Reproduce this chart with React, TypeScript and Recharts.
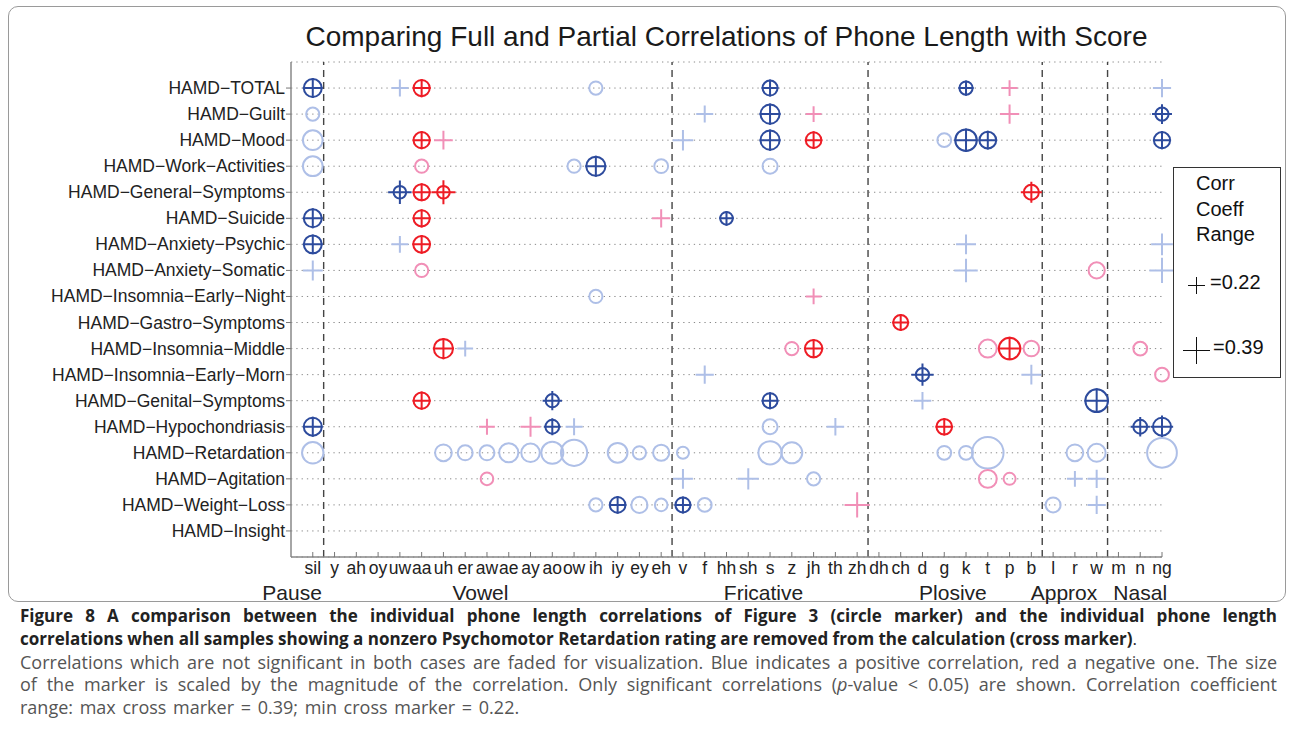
import { ScatterChart, Scatter, XAxis, YAxis, CartesianGrid, ReferenceLine } from 'recharts';

const phones = [
  'sil', 'y', 'ah', 'oy', 'uw', 'aa', 'uh', 'er', 'aw', 'ae', 'ay', 'ao', 'ow', 'ih', 'iy', 'ey', 'eh',
  'v', 'f', 'hh', 'sh', 's', 'z', 'jh', 'th', 'zh',
  'dh', 'ch', 'd', 'g', 'k', 't', 'p', 'b',
  'l', 'r', 'w', 'm', 'n', 'ng',
];

const items = [
  'HAMD−TOTAL', 'HAMD−Guilt', 'HAMD−Mood', 'HAMD−Work−Activities', 'HAMD−General−Symptoms',
  'HAMD−Suicide', 'HAMD−Anxiety−Psychic', 'HAMD−Anxiety−Somatic', 'HAMD−Insomnia−Early−Night',
  'HAMD−Gastro−Symptoms', 'HAMD−Insomnia−Middle', 'HAMD−Insomnia−Early−Morn', 'HAMD−Genital−Symptoms',
  'HAMD−Hypochondriasis', 'HAMD−Retardation', 'HAMD−Agitation', 'HAMD−Weight−Loss', 'HAMD−Insight',
];

const groupNames = ['Pause', 'Vowel', 'Fricative', 'Plosive', 'Approx', 'Nasal'];
// label centres, in phone-index units
const groupCenters = [-0.95, 7.7, 20.7, 29.4, 34.5, 38.0];
// dashed separators between groups
const groupBreaks = [0.5, 16.5, 25.5, 33.5, 36.5];

// [item row, phone, full correlation (circle), partial correlation (cross)]
const markers: [number, string, number | null, number | null][] = [
  [0, 'sil', 0.27, 0.27], [0, 'uw', null, 0.22], [0, 'aa', -0.24, -0.24], [0, 'ih', 0.19, null],
  [0, 's', 0.22, 0.22], [0, 'k', 0.19, 0.19], [0, 'p', null, -0.2], [0, 'ng', null, 0.24],

  [1, 'sil', 0.19, null], [1, 'f', null, 0.22], [1, 's', 0.29, 0.29], [1, 'jh', null, -0.2],
  [1, 'p', null, -0.26], [1, 'ng', 0.19, 0.27],

  [2, 'sil', 0.3, null], [2, 'aa', -0.24, -0.24], [2, 'uh', null, -0.25], [2, 'v', null, 0.28],
  [2, 's', 0.29, 0.29], [2, 'jh', -0.23, -0.23], [2, 'g', 0.2, null], [2, 'k', 0.33, 0.33],
  [2, 't', 0.25, 0.25], [2, 'ng', 0.24, 0.24],

  [3, 'sil', 0.3, null], [3, 'aa', -0.19, null], [3, 'ow', 0.19, null], [3, 'ih', 0.29, 0.29],
  [3, 'eh', 0.2, null], [3, 's', 0.22, null],

  [4, 'uw', 0.18, 0.33], [4, 'aa', -0.24, -0.24], [4, 'uh', -0.18, -0.34], [4, 'b', -0.22, -0.29],

  [5, 'sil', 0.27, 0.27], [5, 'aa', -0.24, -0.24], [5, 'eh', null, -0.24], [5, 'hh', 0.18, 0.18],

  [6, 'sil', 0.27, 0.27], [6, 'uw', null, 0.22], [6, 'aa', -0.25, -0.25], [6, 'k', null, 0.27],
  [6, 'ng', null, 0.3],

  [7, 'sil', null, 0.27], [7, 'aa', -0.19, null], [7, 'k', null, 0.33], [7, 'w', -0.24, null],
  [7, 'ng', null, 0.36],

  [8, 'ih', 0.19, null], [8, 'jh', null, -0.2],

  [9, 'ch', -0.22, -0.22],

  [10, 'uh', -0.29, -0.29], [10, 'er', null, 0.2], [10, 'z', -0.19, null], [10, 'jh', -0.26, -0.26],
  [10, 't', -0.27, null], [10, 'p', -0.33, -0.33], [10, 'b', -0.23, null], [10, 'n', -0.2, null],

  [11, 'f', null, 0.24], [11, 'd', 0.19, 0.31], [11, 'b', null, 0.27], [11, 'ng', -0.2, null],

  [12, 'aa', -0.24, -0.24], [12, 'ao', 0.19, 0.26], [12, 's', 0.22, 0.22], [12, 'd', null, 0.23],
  [12, 'w', 0.35, 0.35],

  [13, 'sil', 0.27, 0.27], [13, 'aw', null, -0.2], [13, 'ay', null, -0.27], [13, 'ao', 0.2, 0.22],
  [13, 'ow', null, 0.22], [13, 's', 0.22, null], [13, 'th', null, 0.23], [13, 'g', -0.23, -0.23],
  [13, 'n', 0.2, 0.26], [13, 'ng', 0.27, 0.31],

  [14, 'sil', 0.33, null], [14, 'uh', 0.25, null], [14, 'er', 0.22, null], [14, 'aw', 0.22, null],
  [14, 'ae', 0.29, null], [14, 'ay', 0.28, null], [14, 'ao', 0.34, null], [14, 'ow', 0.41, null],
  [14, 'iy', 0.3, null], [14, 'ey', 0.19, null], [14, 'eh', 0.24, null], [14, 'v', 0.17, null],
  [14, 's', 0.36, null], [14, 'z', 0.32, null], [14, 'g', 0.2, null], [14, 'k', 0.2, null],
  [14, 't', 0.5, null], [14, 'r', 0.25, null], [14, 'w', 0.27, null], [14, 'ng', 0.47, null],

  [15, 'aw', -0.18, null], [15, 'v', null, 0.27], [15, 'sh', null, 0.29], [15, 'jh', 0.19, null],
  [15, 't', -0.27, null], [15, 'p', -0.17, null], [15, 'r', null, 0.2], [15, 'w', null, 0.24],

  [16, 'ih', 0.19, null], [16, 'iy', 0.23, 0.23], [16, 'ey', 0.24, null], [16, 'eh', 0.18, null],
  [16, 'v', 0.22, 0.22], [16, 'f', 0.2, null], [16, 'zh', null, -0.36], [16, 'l', 0.22, null],
  [16, 'w', null, 0.24],
];

const DARK_BLUE = '#2d4b9d';
const FADED_BLUE = '#aebfe7';
const RED = '#ee1c25';
const PINK = '#f18fb7';
const FONT = '"Liberation Sans", Arial, sans-serif';
const CAPTION_FONT = '"Open Sans", "Noto Sans", sans-serif';

const W = 1290;
const CHART_H = 600;
const PLOT_LEFT = 291;
const PLOT_RIGHT = 1162;
const PLOT_TOP = 62;

// marker diameter in px from |r| (0.22 -> 17px, 0.39 -> 27px)
const markerSize = (r: number) => 4 + 59 * Math.abs(r);

const data = markers.map(([row, ph, full, partial]) => ({
  x: phones.indexOf(ph),
  y: row,
  full,
  partial,
}));

function Marker(props: any) {
  const { cx, cy, payload } = props;
  const { full, partial } = payload;
  const both = full != null && partial != null;
  const neg = (full ?? partial) < 0;
  const color = both ? (neg ? RED : DARK_BLUE) : neg ? PINK : FADED_BLUE;
  const h = partial != null ? markerSize(partial) / 2 : 0;
  return (
    <g>
      {full != null && (
        <circle cx={cx} cy={cy} r={markerSize(full) / 2 - 1} fill="none" stroke={color} strokeWidth={2} />
      )}
      {partial != null && (
        <path d={`M${cx - h},${cy}H${cx + h}M${cx},${cy - h}V${cy + h}`} stroke={color} strokeWidth={2} fill="none" />
      )}
    </g>
  );
}

function PhoneTick(props: any) {
  const { x, y, payload } = props;
  return (
    <g>
      <line x1={x} x2={x} y1={y} y2={y - 5} stroke="#777" strokeWidth={1} />
      <text x={x} y={y + 17} textAnchor="middle" fontFamily={FONT} fontSize={17.5} fill="#222">
        {phones[payload.value]}
      </text>
    </g>
  );
}

function ItemTick(props: any) {
  const { x, y, payload } = props;
  return (
    <text x={x} y={y} dy={6} textAnchor="end" fontFamily={FONT} fontSize={17.5} fill="#222">
      {items[payload.value]}
    </text>
  );
}

function LegendCross({ size }: { size: number }) {
  const h = size / 2;
  return (
    <svg width={size + 2} height={size + 2} style={{ display: 'block' }}>
      <path d={`M1,${h + 1}H${size + 1}M${h + 1},1V${size + 1}`} stroke="#111" strokeWidth={1} />
    </svg>
  );
}

const justified = { textAlign: 'justify' as const, textAlignLast: 'justify' as const, whiteSpace: 'nowrap' as const };

export default function App() {
  const unit = (PLOT_RIGHT - PLOT_LEFT) / 40;
  return (
    <div style={{ position: 'absolute', left: 0, top: 0, width: W, height: 756, background: '#fff', fontFamily: FONT, overflow: 'hidden' }}>
      <div style={{ position: 'absolute', left: 8, top: 6, width: 1276, height: 594, border: '1px solid #9a9a9a', borderRadius: 10 }} />

      <div style={{ position: 'absolute', left: PLOT_LEFT, width: PLOT_RIGHT - PLOT_LEFT, top: 20, textAlign: 'center', fontSize: 28, lineHeight: '34px', color: '#1a1a1a' }}>
        Comparing Full and Partial Correlations of Phone Length with Score
      </div>

      <div style={{ position: 'absolute', left: 0, top: 0 }}>
        <ScatterChart width={W} height={CHART_H} margin={{ top: PLOT_TOP, right: W - PLOT_RIGHT, bottom: 13, left: 0 }}>
          <CartesianGrid vertical={false} stroke="#8a8a8a" strokeDasharray="1.3 4" />
          <XAxis
            type="number"
            dataKey="x"
            domain={[-1, 39]}
            ticks={phones.map((_, i) => i)}
            interval={0}
            height={30}
            tickSize={0}
            tickMargin={0}
            tick={<PhoneTick />}
            axisLine={{ stroke: '#888', strokeWidth: 1.5 }}
          />
          <YAxis
            type="number"
            dataKey="y"
            domain={[-1, 18]}
            reversed
            ticks={items.map((_, i) => i)}
            interval={0}
            width={PLOT_LEFT}
            tickSize={5}
            tickMargin={1}
            tick={<ItemTick />}
            tickLine={{ stroke: '#777' }}
            axisLine={{ stroke: '#888', strokeWidth: 1.5 }}
          />
          {groupBreaks.map((b) => (
            <ReferenceLine key={b} x={b} stroke="#444" strokeWidth={1.4} strokeDasharray="7 5" />
          ))}
          <Scatter data={data} shape={(p: any) => <Marker {...p} />} isAnimationActive={false} />
        </ScatterChart>
      </div>

      {groupNames.map((g, i) => (
        <div
          key={g}
          style={{
            position: 'absolute',
            left: PLOT_LEFT + (groupCenters[i] + 1) * unit - 60,
            width: 120,
            top: 584,
            textAlign: 'center',
            fontSize: 21,
            lineHeight: '18px',
            color: '#222',
          }}
        >
          {g}
        </div>
      ))}

      <div style={{ position: 'absolute', left: 1173, top: 167, width: 106, height: 209, border: '1px solid #333', background: '#fff', color: '#111' }}>
        <div style={{ position: 'absolute', left: 22, top: 3, fontSize: 20, lineHeight: '25.5px' }}>
          Corr<br />Coeff<br />Range
        </div>
        <div style={{ position: 'absolute', left: 13, top: 108 }}>
          <LegendCross size={17} />
        </div>
        <div style={{ position: 'absolute', left: 36, top: 102, fontSize: 20, lineHeight: '24px' }}>=0.22</div>
        <div style={{ position: 'absolute', left: 8, top: 168 }}>
          <LegendCross size={27} />
        </div>
        <div style={{ position: 'absolute', left: 39, top: 167, fontSize: 20, lineHeight: '24px' }}>=0.39</div>
      </div>

      <div style={{ position: 'absolute', left: 20, top: 605, width: 1257, fontFamily: CAPTION_FONT, fontSize: 18, lineHeight: '22.8px' }}>
        <div style={{ fontWeight: 'bold', fontSize: 17, color: '#222', ...justified }}>
          Figure 8 A comparison between the individual phone length correlations of Figure 3 (circle marker) and the individual phone length
        </div>
        <div style={{ fontWeight: 'bold', fontSize: 17, color: '#222', whiteSpace: 'nowrap' }}>
          correlations when all samples showing a nonzero Psychomotor Retardation rating are removed from the calculation (cross marker)
          <span style={{ fontWeight: 'normal' }}>.</span>
        </div>
        <div style={{ color: '#555', ...justified }}>
          Correlations which are not significant in both cases are faded for visualization. Blue indicates a positive correlation, red a negative one. The size
        </div>
        <div style={{ color: '#555', ...justified }}>
          of the marker is scaled by the magnitude of the correlation. Only significant correlations (<i>p</i>-value &lt; 0.05) are shown. Correlation coefficient
        </div>
        <div style={{ color: '#555', whiteSpace: 'nowrap', wordSpacing: 2 }}>range: max cross marker = 0.39; min cross marker = 0.22.</div>
      </div>
    </div>
  );
}
